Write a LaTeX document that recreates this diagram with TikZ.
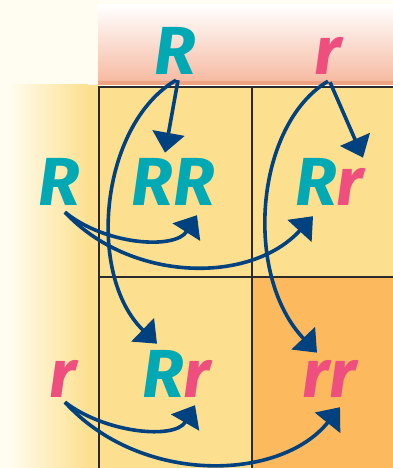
\documentclass[tikz,border=0pt]{standalone}
\usepackage{fontspec}
\setsansfont{Fira Sans}
\usetikzlibrary{arrows.meta,calc}
\definecolor{cream}{HTML}{FFFDF2}
\definecolor{cellyellow}{HTML}{FDE08F}
\definecolor{cellorange}{HTML}{FDB95E}
\definecolor{salmon}{HTML}{F6BBA2}
\definecolor{salmonedge}{HTML}{EFA282}
\definecolor{gridgray}{HTML}{2B2B2B}
\definecolor{allteal}{HTML}{00A9B4}
\definecolor{allpink}{HTML}{EE4F7E}
\definecolor{arrowblue}{HTML}{00427F}
\tikzset{
  letter/.style={inner sep=0pt, anchor=base, font=\sffamily\bfseries\itshape\fontsize{68}{68}\selectfont},
  dom/.style={letter, text=allteal},
  rec/.style={letter, text=allpink},
  gridline/.style={draw=gridgray, line width=2.2pt},
  arr/.style={draw=arrowblue, line width=3.6pt, -{Triangle[length=20pt 0,width=32pt 0]}},
}
\begin{document}
\begin{tikzpicture}[x=1pt,y=-1pt]
\useasboundingbox (0,0) rectangle (393,468);
\fill[cream] (0,0) rectangle (393,468);
% header band
\shade[top color=white, bottom color=salmon] (98,5) rectangle (393,81);
\fill[salmonedge] (98,81) rectangle (393,85);
% left band
\shade[left color=cream, right color=cellyellow] (8,85) rectangle (88,468);
\fill[cellyellow] (87,85) rectangle (99,468);
% cells
\fill[cellyellow] (99,87) rectangle (393,468);
\fill[cellorange] (252,277) rectangle (393,468);
% grid
\draw[gridline] (99,87) -- (393,87);
\draw[gridline] (99,277) -- (393,277);
\draw[gridline] (99,86) -- (99,468);
\draw[gridline] (252,86) -- (252,468);
% letters
\node[dom] (tR) at (175,75) {R};
\node[rec] (tr) at (328,75) {r};
\node[dom] (lR) at (59,205) {R};
\node[dom] (RR) at (173,205) {RR};
\node[letter] (Rr1) at (329,205) {\textcolor{allteal}{R}\textcolor{allpink}{r}};
\node[rec] (lr) at (63,397) {r};
\node[letter] (Rr2) at (176,397) {\textcolor{allteal}{R}\textcolor{allpink}{r}};
\node[rec] (rr) at (329,397) {rr};
% arrows
\draw[arr] ($(tR.south)+(3,5)$) -- ($(RR.north)+(-8,-5)$);
\draw[arr] ($(tR.south)+(1,5)$) .. controls (100,125) and (86,275) .. ($(Rr2.north)+(-19,-6)$);
\draw[arr] ($(tr.south)+(2,7)$) -- ($(Rr1.north)+(34,0)$);
\draw[arr] ($(tr.south)+(0,6)$) .. controls (255,125) and (243,275) .. ($(rr.north)+(-12,-7)$);
\draw[arr] ($(lR.south)+(6,7)$) .. controls (105,245) and (175,250) .. ($(RR.south)+(24,10)$);
\draw[arr] ($(lR.south)+(6,7)$) .. controls (130,282) and (250,285) .. ($(Rr1.south)+(-16,11)$);
\draw[arr] ($(lr.south)+(2,5)$) .. controls (105,433) and (175,440) .. ($(Rr2.south)+(19,8)$);
\draw[arr] ($(lr.south)+(2,5)$) .. controls (140,485) and (280,482) .. ($(rr.south)+(11,10)$);
\end{tikzpicture}
\end{document}
